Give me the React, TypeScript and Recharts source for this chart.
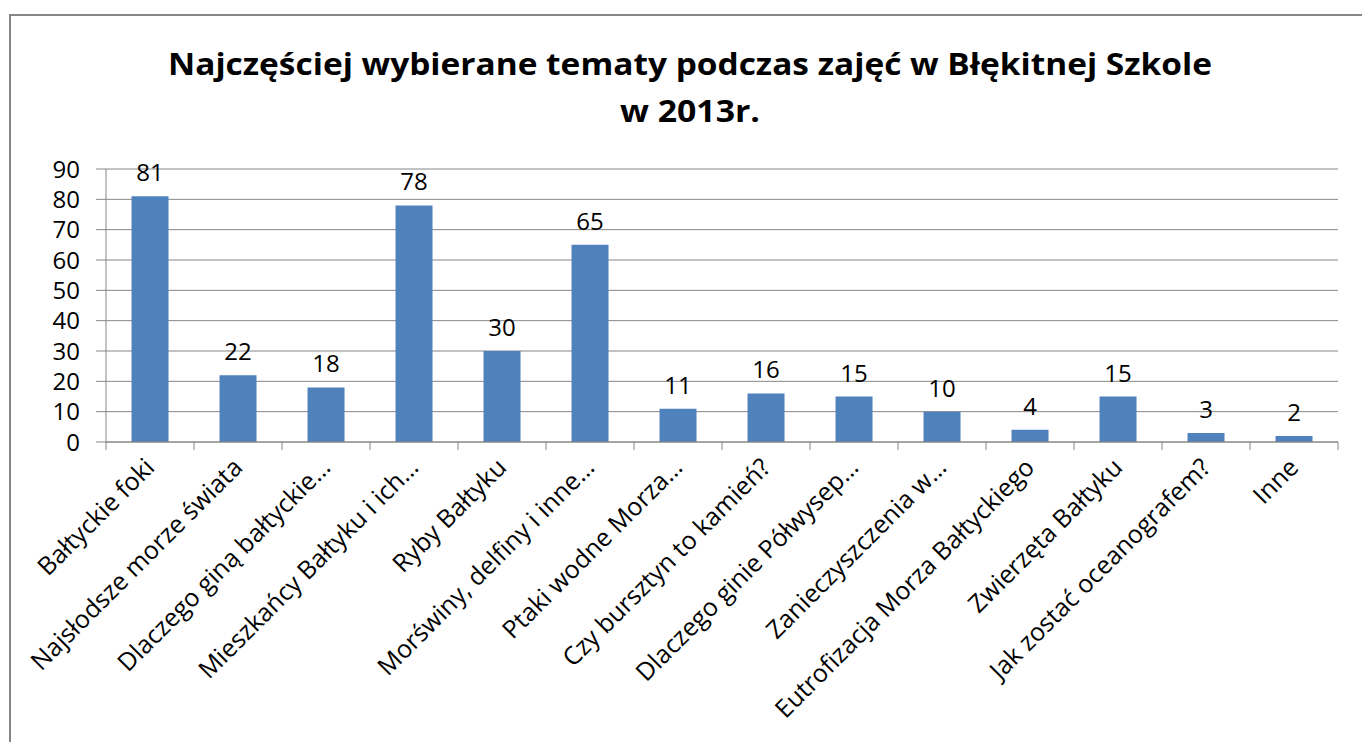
import React from 'react'
import { BarChart, Bar, XAxis, YAxis, CartesianGrid, LabelList } from 'recharts'

const categories = [
  'Bałtyckie foki',
  'Najsłodsze morze świata',
  'Dlaczego giną bałtyckie…',
  'Mieszkańcy Bałtyku i ich…',
  'Ryby Bałtyku',
  'Morświny, delfiny i inne…',
  'Ptaki wodne Morza…',
  'Czy bursztyn to kamień?',
  'Dlaczego ginie Półwysep…',
  'Zanieczyszczenia w…',
  'Eutrofizacja Morza Bałtyckiego',
  'Zwierzęta Bałtyku',
  'Jak zostać oceanografem?',
  'Inne',
]

const counts = [81, 22, 18, 78, 30, 65, 11, 16, 15, 10, 4, 15, 3, 2]

const yTicks = [0, 10, 20, 30, 40, 50, 60, 70, 80, 90]

const titleLines = ['Najczęściej wybierane tematy podczas zajęć w Błękitnej Szkole', 'w 2013r.']
const titleWidths = [1044, 140]

const data = categories.map((name, i) => ({ name, value: counts[i] }))

const W = 1362
const H = 742
const margin = { top: 169, right: 24, bottom: 0, left: 10 }
const yAxisWidth = 96
const xAxisHeight = 300
const band = (W - margin.left - margin.right - yAxisWidth) / categories.length
const font = '"Open Sans", sans-serif'
const gray = '#868686'

const CategoryTick = ({ x, payload, index }: any) => {
  const axisY = H - margin.bottom - xAxisHeight
  const last = index === categories.length - 1
  const tx = x + 6
  const ty = axisY + 27
  return (
    <g>
      <line x1={x - band / 2} x2={x - band / 2} y1={axisY} y2={axisY + 8} stroke={gray} />
      {last && <line x1={x + band / 2} x2={x + band / 2} y1={axisY} y2={axisY + 8} stroke={gray} />}
      <text
        x={tx}
        y={ty}
        textAnchor="end"
        transform={`rotate(-45, ${tx}, ${ty})`}
        fontSize={25}
        fontFamily={font}
        fill="#000"
      >
        {payload.value}
      </text>
    </g>
  )
}

export default function App() {
  return (
    <div style={{ position: 'absolute', left: 0, top: 0, width: W, height: H, overflow: 'hidden', background: '#fff' }}>
      <div
        style={{
          position: 'absolute',
          left: 9,
          top: 14,
          width: 1420,
          height: 800,
          border: `2px solid ${gray}`,
        }}
      />
      <svg width={W} height={140} style={{ position: 'absolute', left: 0, top: 0 }}>
        {titleLines.map((t, i) => (
          <text
            key={i}
            x={690}
            y={75 + i * 47}
            textAnchor="middle"
            textLength={titleWidths[i]}
            lengthAdjust="spacingAndGlyphs"
            fontFamily={font}
            fontWeight="bold"
            fontSize={30}
            fill="#000"
          >
            {t}
          </text>
        ))}
      </svg>
      <div style={{ position: 'absolute', left: 0, top: 0 }}>
        <BarChart width={W} height={H} data={data} margin={margin} barCategoryGap="29%">
          <CartesianGrid vertical={false} stroke={gray} />
          <XAxis
            dataKey="name"
            interval={0}
            height={xAxisHeight}
            tickLine={false}
            axisLine={{ stroke: gray }}
            tick={<CategoryTick />}
          />
          <YAxis
            domain={[0, 90]}
            ticks={yTicks}
            width={yAxisWidth}
            tickSize={10}
            tickMargin={16}
            interval={0}
            axisLine={{ stroke: gray }}
            tickLine={{ stroke: gray }}
            tick={{ fill: '#000', fontSize: 24, fontFamily: font }}
          />
          <Bar dataKey="value" fill="#4F81BD" isAnimationActive={false}>
            <LabelList dataKey="value" position="top" offset={15} fill="#000" fontSize={24} fontFamily={font} />
          </Bar>
        </BarChart>
      </div>
    </div>
  )
}
